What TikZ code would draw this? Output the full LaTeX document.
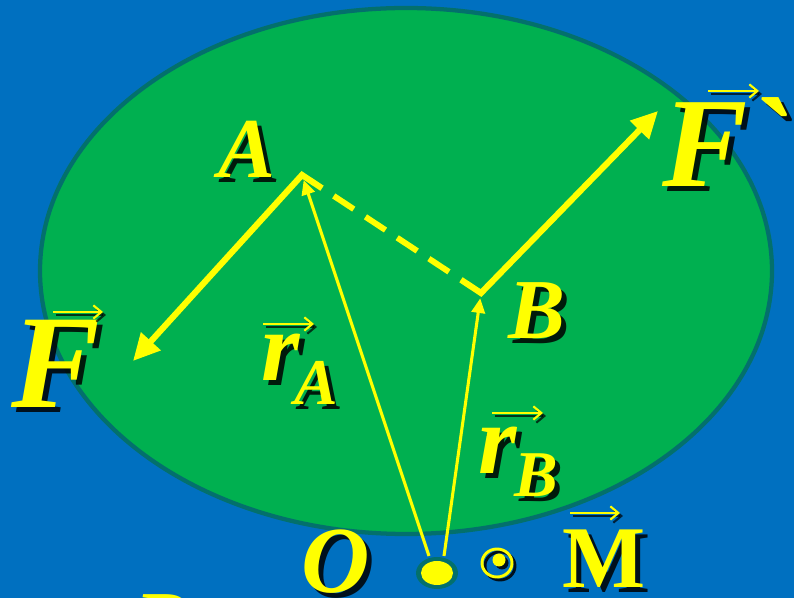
\documentclass[tikz,border=0pt]{standalone}
\usepackage{fontspec}
\setmainfont{Liberation Serif}[Ligatures=TeXOff]
\usetikzlibrary{arrows.meta,calc,shapes.geometric}
\definecolor{bgblue}{HTML}{0070C0}
\definecolor{elgreen}{HTML}{00B050}
\definecolor{rimteal}{HTML}{03706C}
\definecolor{ylw}{HTML}{FFFF00}
\tikzset{
  lbl/.style={anchor=base,inner sep=0pt,outer sep=0pt,text=ylw,font=\bfseries\itshape},
  shadowcopy/.style={text=black,opacity=0.85,xshift=3.75pt,yshift=-3.75pt},
  force/.style={draw=ylw,line width=4.6pt,line join=miter,line cap=butt},
  forcetip/.style={-{Triangle[length=20pt,width=19pt]}},
  radius vec/.style={draw=ylw,line width=2.3pt,-{Triangle[length=11pt,width=10pt]}},
  overarrow/.style={draw=ylw,line width=1.6pt,-{Straight Barb[length=6pt,width=10pt]}},
  overshadow/.style={draw=black,opacity=0.7,line width=1.6pt,-{Straight Barb[length=6pt,width=10pt]}}
}
\newcommand\shlabel[4]{%
  \node[lbl,shadowcopy] at (#2) {#3#4};
  \node[lbl] (#1) at (#2) {#3#4};}
\newcommand\vecover[2]{%
  \draw[overshadow] ($(#1)+(3,3)$) -- ($(#2)+(3,3)$);
  \draw[overarrow] (#1) -- (#2);}
\begin{document}
\begin{tikzpicture}[x=0.75pt,y=-0.75pt]
\useasboundingbox (0,0) rectangle (794,598);
\fill[bgblue] (0,0) rectangle (794,598);
% disc
\draw[rimteal,line width=3.2pt,fill=elgreen] (406,271) ellipse [x radius=366,y radius=263];
% points
\coordinate (A) at (302,175);
\coordinate (B) at (481,293);
\coordinate (Ftip) at (133,361);
\coordinate (Gtip) at (658,111);
\node[ellipse,fill=rimteal,minimum width=31.5pt,minimum height=24pt,inner sep=0pt] (Odot) at (437,573) {};
\fill[ylw] (437,573) ellipse [x radius=16,y radius=12];
\coordinate (OA) at (429,556);
\coordinate (OB) at (444,556);
% forces and dashed arm
\draw[force,forcetip] ($(A)!18pt!(B)$) -- (A) -- (Ftip);
\draw[force,forcetip] ($(B)!18pt!(A)$) -- (B) -- (Gtip);
\draw[draw=ylw,line width=4.4pt,dash pattern=on 18pt off 10.5pt] ($(A)!28.5pt!(B)$) -- ($(A)!132pt!(B)$);
% position vectors
\draw[radius vec] (OA) -- ($(A)!4pt!(OA)$);
\draw[radius vec] (OB) -- ($(B)!4pt!(OB)$);
% labels
\shlabel{labA}{247,178}{\fontsize{64}{64}\selectfont}{A}
\shlabel{labB}{537,339}{\fontsize{64}{64}\selectfont}{B}
\shlabel{labF}{56,408}{\fontsize{100}{100}\selectfont}{F}
\shlabel{labG}{726,187}{\fontsize{96}{96}\selectfont}{F`}
\shlabel{labr1}{281,381}{\fontsize{74}{74}\selectfont}{r}
\shlabel{labr1s}{316,405}{\fontsize{49}{49}\selectfont}{A}
\shlabel{labr2}{498,474}{\fontsize{74}{74}\selectfont}{r}
\shlabel{labr2s}{536,497}{\fontsize{49}{49}\selectfont}{B}
\shlabel{labO}{336,593}{\fontsize{71}{71}\selectfont}{O}
\shlabel{labM}{604,588}{\fontsize{66}{66}\selectfont\upshape}{M}
\shlabel{labP}{161,651}{\fontsize{64}{64}\selectfont}{P}
% vector arrows over letters
\vecover{53,312}{103,312}
\vecover{708,91}{759,91}
\vecover{263,324}{314,324}
\vecover{492,413}{543,413}
\vecover{570,513}{620,513}
% out-of-plane symbol
\begin{scope}[shift={(3,3)},opacity=0.85]
\draw[black,line width=2.2pt] (497,563) ellipse [x radius=15,y radius=14];
\fill[black] (499,560) circle [radius=6.5];
\end{scope}
\node[draw=ylw,line width=2.2pt,ellipse,minimum width=22.5pt,minimum height=21pt,inner sep=0pt] (odot) at (497,563) {};
\fill[ylw] (499,560) circle [radius=6.5];
\end{tikzpicture}
\end{document}
